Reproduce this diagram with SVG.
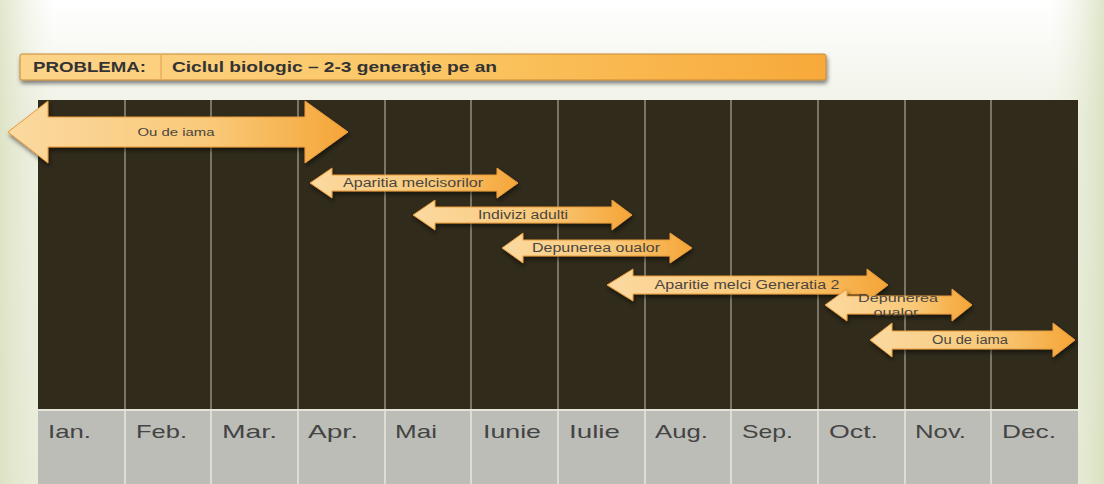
<svg xmlns="http://www.w3.org/2000/svg" width="1104" height="484" viewBox="0 0 1104 484">
<defs>
<linearGradient id="bg" x1="0" y1="0" x2="0" y2="1">
<stop offset="0" stop-color="#FFFFFF"/>
<stop offset="0.25" stop-color="#EFF1E4"/>
<stop offset="1" stop-color="#E9ECDA"/>
</linearGradient>
<linearGradient id="side" x1="0" y1="0" x2="1" y2="0">
<stop offset="0" stop-color="#D9E0BE" stop-opacity="0.8"/>
<stop offset="0.05" stop-color="#EEF0E2" stop-opacity="0"/>
<stop offset="0.95" stop-color="#EEF0E2" stop-opacity="0"/>
<stop offset="1" stop-color="#D6DEBA" stop-opacity="0.8"/>
</linearGradient>
<linearGradient id="hdr" x1="0" y1="0" x2="1" y2="0">
<stop offset="0" stop-color="#FCD48A"/>
<stop offset="0.5" stop-color="#FBC765"/>
<stop offset="1" stop-color="#F8A93A"/>
</linearGradient>
<linearGradient id="arr" x1="0" y1="0" x2="1" y2="0">
<stop offset="0" stop-color="#FBD9A0"/>
<stop offset="0.6" stop-color="#F9C978"/>
<stop offset="1" stop-color="#F5A537"/>
</linearGradient>
<filter id="sh" x="-5%" y="-20%" width="110%" height="160%">
<feDropShadow dx="1" dy="3" stdDeviation="2" flood-color="#000" flood-opacity="0.5"/>
</filter>
</defs>
<style>
.dark{fill:#302B1B}
.vline{stroke:#7A7564;stroke-width:2}
.gline{stroke:#DEDDD4;stroke-width:2}
.month{font-family:"Liberation Sans",Arial,sans-serif;font-size:19px;fill:#444}
.arrow{fill:url(#arr);stroke:#E89A3A;stroke-width:1;filter:url(#sh)}
.lbl{font-family:"Liberation Sans",Arial,sans-serif;font-size:12px;fill:#4A4540;text-anchor:middle;dominant-baseline:central}
.hdrt{font-family:"Liberation Sans",Arial,sans-serif;font-size:14px;font-weight:bold;fill:#333}
</style>
<rect width="1104" height="484" fill="url(#bg)"/>
<rect width="1104" height="484" fill="url(#side)"/>

<g id="header">
<rect x="20" y="54" width="806" height="26" rx="2" fill="url(#hdr)" stroke="#C98A35" stroke-width="1" filter="url(#sh)"/>
<line x1="161" y1="55" x2="161" y2="79" stroke="#E0A050" stroke-width="1"/>
<text class="hdrt" x="33" y="72" textLength="113" lengthAdjust="spacingAndGlyphs">PROBLEMA:</text>
<text class="hdrt" x="172" y="72" textLength="325" lengthAdjust="spacingAndGlyphs">Ciclul biologic – 2-3 generaţie pe an</text>
</g>

<g id="timeline">
<rect class="dark" x="38" y="100" width="1040" height="309"/>
<rect x="38" y="411" width="1040" height="73" fill="#BDBDB8"/>
<g>
<line class="vline" x1="125" y1="100" x2="125" y2="409"/>
<line class="vline" x1="211" y1="100" x2="211" y2="409"/>
<line class="vline" x1="298" y1="100" x2="298" y2="409"/>
<line class="vline" x1="385" y1="100" x2="385" y2="409"/>
<line class="vline" x1="471" y1="100" x2="471" y2="409"/>
<line class="vline" x1="558" y1="100" x2="558" y2="409"/>
<line class="vline" x1="645" y1="100" x2="645" y2="409"/>
<line class="vline" x1="731" y1="100" x2="731" y2="409"/>
<line class="vline" x1="818" y1="100" x2="818" y2="409"/>
<line class="vline" x1="905" y1="100" x2="905" y2="409"/>
<line class="vline" x1="991" y1="100" x2="991" y2="409"/>
</g>
<line x1="38" y1="410" x2="1078" y2="410" stroke="#E6E5DA" stroke-width="2"/>
<g>
<line class="gline" x1="125" y1="411" x2="125" y2="484"/>
<line class="gline" x1="211" y1="411" x2="211" y2="484"/>
<line class="gline" x1="298" y1="411" x2="298" y2="484"/>
<line class="gline" x1="385" y1="411" x2="385" y2="484"/>
<line class="gline" x1="471" y1="411" x2="471" y2="484"/>
<line class="gline" x1="558" y1="411" x2="558" y2="484"/>
<line class="gline" x1="645" y1="411" x2="645" y2="484"/>
<line class="gline" x1="731" y1="411" x2="731" y2="484"/>
<line class="gline" x1="818" y1="411" x2="818" y2="484"/>
<line class="gline" x1="905" y1="411" x2="905" y2="484"/>
<line class="gline" x1="991" y1="411" x2="991" y2="484"/>
</g>
<text class="month" x="48" y="438" textLength="43" lengthAdjust="spacingAndGlyphs">Ian.</text>
<text class="month" x="136" y="438" textLength="51" lengthAdjust="spacingAndGlyphs">Feb.</text>
<text class="month" x="222" y="438" textLength="55" lengthAdjust="spacingAndGlyphs">Mar.</text>
<text class="month" x="308" y="438" textLength="50" lengthAdjust="spacingAndGlyphs">Apr.</text>
<text class="month" x="395" y="438" textLength="42" lengthAdjust="spacingAndGlyphs">Mai</text>
<text class="month" x="483" y="438" textLength="58" lengthAdjust="spacingAndGlyphs">Iunie</text>
<text class="month" x="569" y="438" textLength="51" lengthAdjust="spacingAndGlyphs">Iulie</text>
<text class="month" x="655" y="438" textLength="53" lengthAdjust="spacingAndGlyphs">Aug.</text>
<text class="month" x="742" y="438" textLength="51" lengthAdjust="spacingAndGlyphs">Sep.</text>
<text class="month" x="829" y="438" textLength="49" lengthAdjust="spacingAndGlyphs">Oct.</text>
<text class="month" x="915" y="438" textLength="51" lengthAdjust="spacingAndGlyphs">Nov.</text>
<text class="month" x="1002" y="438" textLength="54" lengthAdjust="spacingAndGlyphs">Dec.</text>
</g>

<g id="connectors"></g>

<g id="arrow-ou-de-iama-1">
<path class="arrow" d="M8 132 L48 101 L48 117 L305 117 L305 101 L348 132 L305 163 L305 147 L48 147 L48 163 Z"/>
<text class="lbl" x="176" y="132" style="font-size:10px" textLength="77" lengthAdjust="spacingAndGlyphs">Ou de iama</text>
</g>
<g id="arrow-aparitia">
<path class="arrow" d="M310 183 L332 168 L332 175 L497 175 L497 168 L518 183 L497 198 L497 191 L332 191 L332 198 Z"/>
<text class="lbl" x="413" y="183" textLength="140" lengthAdjust="spacingAndGlyphs">Aparitia melcisorilor</text>
</g>
<g id="arrow-indivizi">
<path class="arrow" d="M413 215 L435 200 L435 207 L612 207 L612 200 L632 215 L612 230 L612 223 L435 223 L435 230 Z"/>
<text class="lbl" x="523" y="215" textLength="90" lengthAdjust="spacingAndGlyphs">Indivizi adulti</text>
</g>
<g id="arrow-depunerea-1">
<path class="arrow" d="M502 248 L523 233 L523 240 L670 240 L670 233 L692 248 L670 263 L670 256 L523 256 L523 263 Z"/>
<text class="lbl" x="596" y="248" textLength="128" lengthAdjust="spacingAndGlyphs">Depunerea oualor</text>
</g>
<g id="arrow-generatia2">
<path class="arrow" d="M607 285 L633 269 L633 276 L867 276 L867 269 L888 285 L867 301 L867 294 L633 294 L633 301 Z"/>
<text class="lbl" x="747" y="285" textLength="185" lengthAdjust="spacingAndGlyphs">Aparitie melci Generatia 2</text>
</g>
<g id="arrow-depunerea-2">
<path class="arrow" d="M825 305 L847 289 L847 296 L952 296 L952 289 L972 305 L952 321 L952 314 L847 314 L847 321 Z"/>
<text class="lbl" x="898" y="298" style="font-size:11px" textLength="80" lengthAdjust="spacingAndGlyphs">Depunerea</text>
<text class="lbl" x="896" y="312" style="font-size:11px" textLength="45" lengthAdjust="spacingAndGlyphs">oualor</text>
</g>
<g id="arrow-ou-de-iama-2">
<path class="arrow" d="M870 340 L892 323 L892 331 L1053 331 L1053 323 L1075 340 L1053 357 L1053 349 L892 349 L892 357 Z"/>
<text class="lbl" x="970" y="340" textLength="76" lengthAdjust="spacingAndGlyphs">Ou de iama</text>
</g>
</svg>
